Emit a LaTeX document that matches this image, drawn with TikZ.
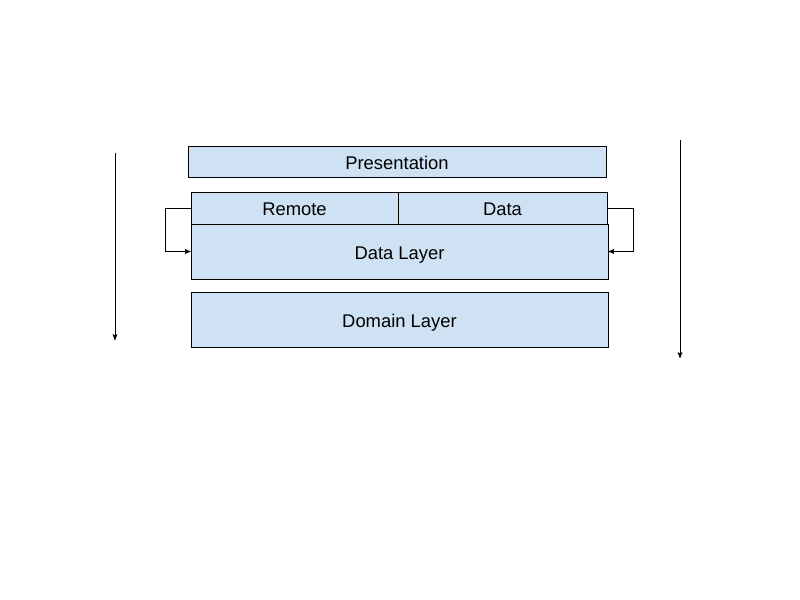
\documentclass[tikz,border=0pt]{standalone}
\usepackage{fontspec}
\setmainfont{Liberation Sans}
\usetikzlibrary{arrows}
\definecolor{layerblue}{HTML}{CFE2F3}
\tikzset{
  layer/.style = {draw=black, fill=layerblue, line width=0.75pt,
    inner sep=0pt, text centered, text height=11.5pt, text depth=0pt,
    font=\fontsize{13.8}{16}\selectfont},% blue box
  flow/.style = {->, >=stealth', line width=0.6pt}% plain arrow
}
\begin{document}
\begin{tikzpicture}[x=0.75pt,y=-0.75pt]
\useasboundingbox (0,0) rectangle (800,600);
\node [layer, minimum width=313.5pt, minimum height=23.25pt] (pres) at (397,161.5) {Presentation};
\node [layer, minimum width=155.25pt, minimum height=24pt] (remote) at (294.5,208) {Remote};
\node [layer, minimum width=156.75pt, minimum height=24pt] (data) at (502.5,208) {Data};
\node [layer, minimum width=312.75pt, minimum height=41.25pt] (datalayer) at (399.5,251.5) {Data Layer};
\node [layer, minimum width=312.75pt, minimum height=41.25pt] (domain) at (399.5,319.5) {Domain Layer};
% side arrows
\coordinate (ltop) at (115,153);
\coordinate (lbot) at (115,340);
\coordinate (rtop) at (680,140);
\coordinate (rbot) at (680,358);
\draw [flow] (ltop) -- (lbot);
\draw [flow] (rtop) -- (rbot);
% loops into data layer
\draw [flow] (remote.west) -- ++(-25,0) |- (datalayer.west);
\draw [flow] (data.east) -- ++(26,0) |- (datalayer.east);
\end{tikzpicture}
\end{document}
